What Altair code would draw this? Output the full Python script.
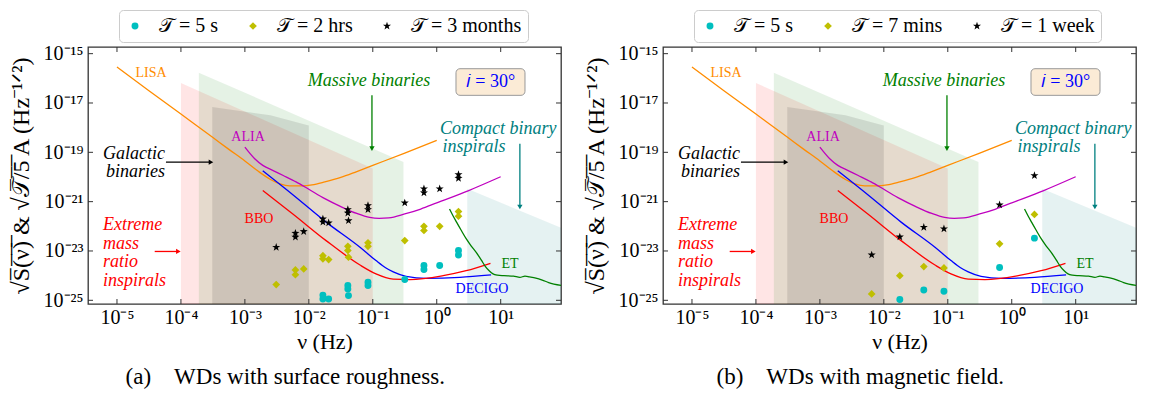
import altair as alt
import pandas as pd

FONT = "Liberation Serif"
W, H = 473, 257

X_DOMAIN = [10 ** -5.453, 10 ** 1.943]
Y_DOMAIN = [10 ** -25.15, 10 ** -14.73]
X_TICKS = [1e-5, 1e-4, 1e-3, 1e-2, 1e-1, 1e0, 1e1]
Y_TICKS = [1e-25, 1e-23, 1e-21, 1e-19, 1e-17, 1e-15]

# ---- detector curves (log10 nu, log10 amplitude) ----
LISA_LX = [-5.0, -4.5, -4.0, -3.5, -3.25, -3.0, -2.8, -2.6, -2.45, -2.3, -2.1, -1.95, -1.75, -1.5, -1.25, -1.0, -0.5, 0.0]
LISA_LY = [-15.54, -16.5, -17.45, -18.4, -18.88, -19.35, -19.75, -20.1, -20.28, -20.36, -20.36, -20.32, -20.2, -20.02, -19.78, -19.53, -19.03, -18.52]
ALIA_LX = [-3.0, -2.85, -2.72, -2.55, -2.4, -2.2, -2.0, -1.75, -1.5, -1.25, -1.05, -0.9, -0.75, -0.5, -0.25, 0.0, 0.5, 1.0]
ALIA_LY = [-18.79, -19.25, -19.53, -19.75, -19.94, -20.2, -20.5, -20.88, -21.2, -21.48, -21.64, -21.68, -21.66, -21.5, -21.3, -21.05, -20.55, -19.99]
DECIGO_LX = [-2.72, -2.25, -1.73, -1.2, -0.95, -0.8, -0.68, -0.48, -0.16, 0.36, 0.85]
DECIGO_LY = [-19.75, -20.72, -21.83, -22.85, -23.39, -23.68, -23.85, -24.03, -24.11, -24.07, -23.97]
BBO_LX = [-2.72, -2.25, -1.73, -1.2, -0.95, -0.68, -0.42, 0.1, 0.46, 0.84]
BBO_LY = [-20.55, -21.5, -22.58, -23.57, -23.93, -24.14, -24.16, -24.0, -23.8, -23.5]
ET_LX = [0.2, 0.25, 0.31, 0.38, 0.46, 0.54, 0.62, 0.7, 0.75, 0.82, 0.88, 0.95, 1.05, 1.2, 1.3, 1.38, 1.45, 1.55, 1.65, 1.75, 1.95]
ET_LY = [-21.3, -21.55, -21.83, -22.15, -22.5, -22.8, -23.07, -23.38, -23.59, -23.8, -23.93, -23.98, -24.0, -24.02, -24.07, -24.02, -24.05, -24.1, -24.18, -24.28, -24.4]

# ---- source regions (log10 nu, log10 top amplitude) ----
EMRI_LX = [-4.0, -1.0]
EMRI_LY = [-16.19, -19.66]
MASSIVE_LX = [-3.72, -0.52]
MASSIVE_LY = [-15.77, -19.39]
GALACTIC_LX = [-3.51, -2.6, -2.0]
GALACTIC_LY = [-17.16, -17.5, -17.91]
COMPACT_LX = [0.477, 2.2]
COMPACT_LY = [-20.48, -22.33]
REGION_FLOOR = -26.5

# ---- (a) surface roughness ----
A_LABELS = ["\U0001D4AF = 5 s", "\U0001D4AF = 2 hrs", "\U0001D4AF = 3 months"]
A_5S_LX = [-1.78, -1.78, -1.69, -1.39, -1.39, -1.38, -1.075, -1.075, -0.50, -0.20, -0.20, 0.046, 0.34, 0.34]
A_5S_LY = [-24.79, -24.95, -24.95, -24.40, -24.54, -24.81, -24.27, -24.40, -24.16, -23.59, -23.75, -23.59, -22.98, -23.16]
A_2H_LX = [-2.51, -2.21, -2.21, -2.08, -1.78, -1.78, -1.69, -1.39, -1.39, -1.38, -1.075, -1.075, -0.50, -0.20, -0.20, 0.046, 0.34, 0.34]
A_2H_LY = [-24.36, -23.77, -23.96, -23.73, -23.19, -23.32, -23.35, -22.81, -22.98, -23.25, -22.67, -22.81, -22.58, -22.0, -22.17, -22.0, -21.40, -21.59]
A_3M_LX = [-2.51, -2.21, -2.21, -2.08, -1.78, -1.78, -1.69, -1.39, -1.39, -1.38, -1.075, -1.075, -0.50, -0.20, -0.20, 0.046, 0.34, 0.34]
A_3M_LY = [-22.85, -22.28, -22.44, -22.21, -21.70, -21.83, -21.86, -21.32, -21.46, -21.77, -21.16, -21.32, -21.05, -20.48, -20.64, -20.48, -19.90, -20.05]

# ---- (b) magnetic field ----
B_LABELS = ["\U0001D4AF = 5 s", "\U0001D4AF = 7 mins", "\U0001D4AF = 1 week"]
B_5S_LX = [-1.75, -1.375, -1.06, -0.19, 0.355]
B_5S_LY = [-24.97, -24.58, -24.63, -23.67, -22.48]
B_7M_LX = [-2.19, -1.75, -1.375, -1.06, -0.19, 0.355]
B_7M_LY = [-24.74, -24.0, -23.63, -23.69, -22.71, -21.52]
B_1W_LX = [-2.19, -1.75, -1.375, -1.06, -0.19, 0.355]
B_1W_LY = [-23.16, -22.43, -22.04, -22.10, -21.13, -19.94]

CAPTION_A = "(a)\u2003WDs with surface roughness."
CAPTION_B = "(b)\u2003WDs with magnetic field."

STAR = ("M0,-1L0.235,-0.324L0.951,-0.309L0.380,0.124L0.588,0.809L0,0.4"
        "L-0.588,0.809L-0.380,0.124L-0.951,-0.309L-0.235,-0.324Z")
PT_COLORS = ["#00bfbf", "#bfbf00", "#000000"]
PT_SHAPES = ["circle", "diamond", STAR]
PT_SIZES = [48, 72, 20]

SUP = "['\u2070','\u00b9','\u00b2','\u00b3','\u2074','\u2075','\u2076','\u2077','\u2078','\u2079']"
E = "round(log(datum.value)/LN10)"
LABEL_EXPR = (f"'10' + ({E} < 0 ? '\u207b' : '') + (abs({E}) >= 10 ? {SUP}[floor(abs({E})/10)] : '')"
              f" + {SUP}[abs({E}) % 10]")

Y_TITLE = ("\u221aS\u0305(\u0305\u03bd\u0305)\u0305  &  \u221a\U0001D4AF\u0305/\u03055\u0305 A (Hz\u207b\u00b9\u141f\u00b2)")

xs = alt.Scale(type="log", domain=X_DOMAIN, nice=False)
ys = alt.Scale(type="log", domain=Y_DOMAIN, nice=False)
xaxis = alt.Axis(values=X_TICKS, labelExpr=LABEL_EXPR, title="\u03bd (Hz)", ticks=False, domain=False,
                 grid=False, labelPadding=3, titlePadding=4, labelFontSize=20, titleFontSize=22)
yaxis = alt.Axis(values=Y_TICKS, labelExpr=LABEL_EXPR, title=Y_TITLE, ticks=False, domain=False,
                 grid=False, labelPadding=5, titlePadding=5, minExtent=50, labelFontSize=20, titleFontSize=24)


def X(f):
    return alt.X(f, type="quantitative", scale=xs, axis=xaxis)


def Y(f):
    return alt.Y(f, type="quantitative", scale=ys, axis=yaxis)


def pow10(v):
    return [10 ** a for a in v]


def region(lx, ly, color, opacity):
    df = pd.DataFrame({"x": pow10(lx), "y": pow10(ly), "b": [10 ** REGION_FLOOR] * len(lx)})
    return alt.Chart(df).mark_area(color=color, opacity=opacity, clip=True).encode(
        x=X("x"), y=Y("y"), y2=alt.Y2("b"))


def curve(lx, ly, color):
    df = pd.DataFrame({"x": pow10(lx), "y": pow10(ly)})
    return alt.Chart(df).mark_line(color=color, strokeWidth=1.3, interpolate="monotone", clip=True).encode(
        x=X("x"), y=Y("y"))


def text(lx, ly, s, color, size, italic=False, align="center"):
    df = pd.DataFrame({"x": [10 ** lx], "y": [10 ** ly], "t": [s]})
    return alt.Chart(df).mark_text(color=color, font=FONT, fontSize=size, align=align, baseline="middle",
                                   fontStyle="italic" if italic else "normal").encode(
        x=X("x"), y=Y("y"), text="t:N")


def arrow(lx0, ly0, lx1, ly1, color, head):
    df = pd.DataFrame({"x": [10 ** lx0], "y": [10 ** ly0], "x2": [10 ** lx1], "y2": [10 ** ly1]})
    shaft = alt.Chart(df).mark_rule(color=color, strokeWidth=1.3).encode(
        x=X("x"), y=Y("y"), x2=alt.X2("x2"), y2=alt.Y2("y2"))
    tip = alt.Chart(df).mark_point(shape=head, filled=True, color=color, size=28, opacity=1).encode(
        x=X("x2"), y=Y("y2"))
    return [shaft, tip]


def ticks():
    dx = pd.DataFrame({"v": X_TICKS})
    dy = pd.DataFrame({"v": Y_TICKS})
    c = "#333333"
    return [
        alt.Chart(dx).mark_rule(color=c, strokeWidth=1).encode(x=X("v"), y=alt.value(H), y2=alt.value(H - 5)),
        alt.Chart(dx).mark_rule(color=c, strokeWidth=1).encode(x=X("v"), y=alt.value(0), y2=alt.value(5)),
        alt.Chart(dy).mark_rule(color=c, strokeWidth=1).encode(y=Y("v"), x=alt.value(0), x2=alt.value(5)),
        alt.Chart(dy).mark_rule(color=c, strokeWidth=1).encode(y=Y("v"), x=alt.value(W), x2=alt.value(W - 5)),
    ]


def panel(series, labels, caption):
    rows = []
    for (lx, ly), lab in zip(series, labels):
        for a, b in zip(lx, ly):
            rows.append({"x": 10 ** a, "y": 10 ** b, "s": lab})
    pts = pd.DataFrame(rows)
    leg = alt.Legend(orient="none", legendX=31, legendY=-37, direction="horizontal", title=None,
                     strokeColor="#cccccc", fillColor="white", cornerRadius=4, padding=6,
                     labelFont=FONT, labelFontSize=20, symbolSize=24, columnPadding=24,
                     labelOffset=14, labelLimit=300, symbolStrokeWidth=0)
    points = alt.Chart(pts).mark_point(filled=True, opacity=1, clip=True).encode(
        x=X("x"), y=Y("y"),
        color=alt.Color("s:N", scale=alt.Scale(domain=labels, range=PT_COLORS), legend=leg),
        shape=alt.Shape("s:N", scale=alt.Scale(domain=labels, range=PT_SHAPES), legend=leg),
        size=alt.Size("s:O", scale=alt.Scale(domain=labels, range=PT_SIZES), legend=None),
    )
    box_df = pd.DataFrame({"x": [10 ** 0.301], "x2": [10 ** 1.38], "y": [10 ** -15.61], "y2": [10 ** -16.69]})
    box = alt.Chart(box_df).mark_rect(fill="#fbebd6", stroke="#999999", strokeWidth=1, cornerRadius=4).encode(
        x=X("x"), x2=alt.X2("x2"), y=Y("y"), y2=alt.Y2("y2"))
    layers = [
        region(EMRI_LX, EMRI_LY, "#ff0000", 0.1),
        region(MASSIVE_LX, MASSIVE_LY, "#008000", 0.1),
        region(GALACTIC_LX, GALACTIC_LY, "#000000", 0.1),
        region(COMPACT_LX, COMPACT_LY, "#008080", 0.1),
        curve(LISA_LX, LISA_LY, "#ff8c00"),
        curve(ALIA_LX, ALIA_LY, "#bf00bf"),
        curve(DECIGO_LX, DECIGO_LY, "#0000ff"),
        curve(BBO_LX, BBO_LY, "#ff0000"),
        curve(ET_LX, ET_LY, "#008000"),
        points,
        text(-4.468, -15.78, "LISA", "#ff8c00", 14),
        text(-2.95, -18.38, "ALIA", "#bf00bf", 14),
        text(-2.78, -21.71, "BBO", "#ff0000", 14),
        text(0.708, -24.55, "DECIGO", "#0000ff", 14),
        text(1.145, -23.54, "ET", "#008000", 14),
        text(-4.25, -19.07, "Galactic", "#000000", 18, True, "right"),
        text(-4.25, -19.80, "binaries", "#000000", 18, True, "right"),
        text(-5.219, -21.94, "Extreme", "#ff0000", 18, True, "left"),
        text(-5.219, -22.71, "mass", "#ff0000", 18, True, "left"),
        text(-5.219, -23.46, "ratio", "#ff0000", 18, True, "left"),
        text(-5.219, -24.20, "inspirals", "#ff0000", 18, True, "left"),
        text(-1.06, -16.11, "Massive binaries", "#008000", 18, True),
        text(0.051, -18.06, "Compact binary", "#008080", 18, True, "left"),
        text(0.09, -18.79, "inspirals", "#008080", 18, True, "left"),
        box,
        text(0.84, -16.15, "\U0001D456 = 30\u00b0", "#0000ff", 18),
    ]
    layers += arrow(-4.234, -19.40, -3.53, -19.40, "#000000", "triangle-right")
    layers += arrow(-4.41, -23.02, -4.04, -23.02, "#ff0000", "triangle-right")
    layers += arrow(-1.013, -16.69, -1.013, -18.85, "#008000", "triangle-down")
    layers += arrow(1.30, -18.65, 1.30, -21.22, "#008080", "triangle-down")
    layers += ticks()
    title = alt.TitleParams(caption, orient="bottom", anchor="middle", frame="bounds", font=FONT,
                            fontSize=23, fontWeight="normal", color="#000000", offset=14)
    return alt.layer(*layers).properties(width=W, height=H, title=title)


left = panel([(A_5S_LX, A_5S_LY), (A_2H_LX, A_2H_LY), (A_3M_LX, A_3M_LY)], A_LABELS, CAPTION_A)
right = panel([(B_5S_LX, B_5S_LY), (B_7M_LX, B_7M_LY), (B_1W_LX, B_1W_LY)], B_LABELS, CAPTION_B)

chart = alt.hconcat(left, right, spacing=20).resolve_scale(
    color="independent", shape="independent", size="independent"
).configure_view(stroke="#333333", strokeWidth=1.3).configure_axis(
    labelFont=FONT, labelColor="#000000", titleFont=FONT,
    titleFontWeight="normal", titleColor="#000000"
).properties(padding=0)

chart.save("out.html", embed_options={"renderer": "svg", "actions": False})
